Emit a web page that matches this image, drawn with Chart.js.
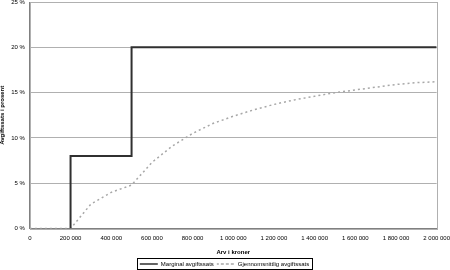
<!DOCTYPE html>
<html>
<head>
<meta charset="utf-8">
<script src="https://cdn.jsdelivr.net/npm/chart.js@4/dist/chart.umd.min.js"></script>
<style>
  html, body { margin: 0; padding: 0; background: #fff; }
  #wrap { width: 450px; height: 270px; }
</style>
</head>
<body>
<div id="wrap"><canvas id="myChart"></canvas></div>
<script>
// data
var arv = [0, 100000, 200000, 300000, 400000, 500000, 600000, 700000, 800000, 900000, 1000000,
  1100000, 1200000, 1300000, 1400000, 1500000, 1600000, 1700000, 1800000, 1900000, 2000000];
var snitt = [0, 0, 0, 2.7, 4.0, 4.8, 7.3, 9.1, 10.5, 11.6, 12.4,
  13.1, 13.7, 14.2, 14.6, 15.0, 15.3, 15.6, 15.9, 16.1, 16.2];
var margArv = [200000, 200000, 500000, 500000, 2000000];
var margSats = [0, 8, 8, 20, 20];
var yTicks = [0, 5, 10, 15, 20, 25];

function pts(xs, ys) {
  return xs.map(function (x, i) { return { x: x, y: ys[i] }; });
}

function kr(v) {
  return String(v).replace(/\B(?=(\d{3})+(?!\d))/g, ' ');
}

// frame round the plot + box round the legend
var frame = {
  id: 'frame',
  afterDraw: function (chart) {
    var c = chart.ctx, a = chart.chartArea;
    c.save();
    c.strokeStyle = '#b0b0b0';
    c.lineWidth = 1;
    c.strokeRect(Math.round(a.left) + 0.5, Math.round(a.top) + 0.5,
      Math.round(a.right - a.left), Math.round(a.bottom - a.top));
    var hb = chart.legend.legendHitBoxes;
    if (hb && hb.length) {
      var l = hb[0].left - 3, t = hb[0].top - 3;
      var last = hb[hb.length - 1];
      var r = last.left + last.width + 3, b = last.top + last.height + 2;
      c.strokeStyle = '#000';
      c.strokeRect(Math.round(l) + 0.5, Math.round(t) + 0.5, Math.round(r - l), Math.round(b - t));
    }
    c.restore();
  }
};

Chart.defaults.font.family = '"Liberation Sans", Arial, sans-serif';
Chart.defaults.font.size = 6;
Chart.defaults.color = '#000';

var ctx = document.getElementById('myChart');
var myChart = new Chart(ctx, {
  type: 'scatter',
  data: {
    datasets: [{
      label: 'Marginal avgiftssats',
      data: pts(margArv, margSats),
      showLine: true,
      borderColor: '#303030',
      borderWidth: 2,
      pointRadius: 0,
      fill: false
    }, {
      label: 'Gjennomsnittlig avgiftssats',
      data: pts(arv, snitt),
      showLine: true,
      borderColor: '#a8a8a8',
      borderWidth: 1.5,
      borderDash: [2, 3],
      pointRadius: 0,
      fill: false
    }]
  },
  options: {
    responsive: true,
    maintainAspectRatio: false,
    animation: false,
    // legend reserves 10px of slack below itself, partly pushed off the canvas here
    layout: { padding: { left: -1, right: 0, top: 0, bottom: -7 } },
    plugins: {
      tooltip: { enabled: false },
      legend: {
        position: 'bottom',
        labels: {
          boxWidth: 18,
          boxHeight: 0,
          padding: 3,
          font: { size: 6 },
          generateLabels: function (chart) {
            return chart.data.datasets.map(function (d, i) {
              return {
                text: d.label,
                fillStyle: d.borderColor,
                strokeStyle: d.borderColor,
                lineWidth: 1.5,
                lineDash: d.borderDash || [],
                datasetIndex: i
              };
            });
          }
        }
      }
    },
    scales: {
      x: {
        type: 'linear',
        min: 0,
        max: 2000000,
        afterBuildTicks: function (axis) {
          axis.ticks = arv.filter(function (v) { return v % 200000 === 0; }).map(function (v) { return { value: v }; });
        },
        afterFit: function (axis) {
          axis.paddingRight = Math.max(axis.paddingRight - 3, 0);
        },
        grid: { display: false, drawTicks: true, tickLength: 3, tickColor: '#808080' },
        border: { color: '#808080' },
        ticks: { maxRotation: 0, padding: 3, callback: function (v) { return kr(v); } },
        title: { display: true, text: 'Arv i kroner', font: { size: 6, weight: 'bold' }, padding: { top: 4, bottom: 2 } }
      },
      y: {
        min: 0,
        max: 25,
        afterBuildTicks: function (axis) {
          axis.ticks = yTicks.map(function (v) { return { value: v }; });
        },
        afterFit: function (axis) {
          axis.paddingTop = 2;
          axis.paddingBottom = 2;
        },
        grid: { color: '#b0b0b0', drawTicks: false },
        border: { color: '#808080' },
        ticks: { padding: 5, callback: function (v) { return v + ' %'; } },
        title: { display: true, text: 'Avgiftssats i prosent', font: { size: 6, weight: 'bold' }, padding: { top: 0, bottom: 0 } }
      }
    }
  },
  plugins: [frame]
});
</script>
</body>
</html>
